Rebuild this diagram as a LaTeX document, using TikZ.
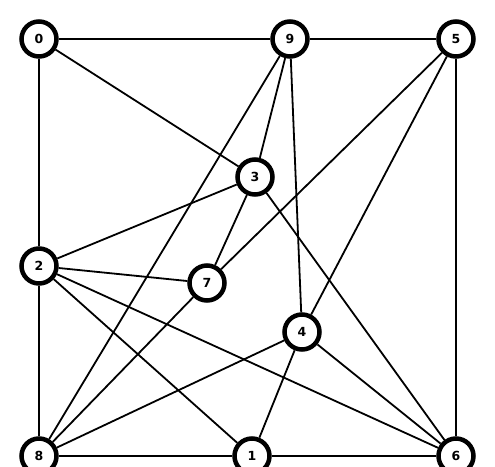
\documentclass[tikz,border=0pt]{standalone}
\usepackage{fontspec}
\setmainfont{DejaVu Sans}
\begin{document}
\begin{tikzpicture}[x=1pt,y=-1pt,
  vtx/.style={circle,draw=black,line width=4.5pt,fill=white,minimum size=35pt,inner sep=0pt,font=\bfseries\fontsize{12.5}{14}\selectfont},
  edge/.style={line width=1.8pt,black}]
\useasboundingbox (0,0) rectangle (495,466);
\node[vtx] (n0) at (39,39) {0};
\node[vtx] (n9) at (290,39) {9};
\node[vtx] (n5) at (456,39) {5};
\node[vtx] (n3) at (255,177) {3};
\node[vtx] (n2) at (39,266) {2};
\node[vtx] (n7) at (207,283) {7};
\node[vtx] (n4) at (302,332) {4};
\node[vtx] (n8) at (39,456) {8};
\node[vtx] (n1) at (252,456) {1};
\node[vtx] (n6) at (456,456) {6};
\draw[edge] (n0) -- (n9);
\draw[edge] (n0) -- (n2);
\draw[edge] (n0) -- (n3);
\draw[edge] (n9) -- (n5);
\draw[edge] (n9) -- (n3);
\draw[edge] (n9) -- (n4);
\draw[edge] (n9) -- (n8);
\draw[edge] (n5) -- (n7);
\draw[edge] (n5) -- (n4);
\draw[edge] (n5) -- (n6);
\draw[edge] (n3) -- (n2);
\draw[edge] (n3) -- (n7);
\draw[edge] (n3) -- (n6);
\draw[edge] (n2) -- (n7);
\draw[edge] (n2) -- (n6);
\draw[edge] (n2) -- (n1);
\draw[edge] (n2) -- (n8);
\draw[edge] (n7) -- (n8);
\draw[edge] (n4) -- (n8);
\draw[edge] (n4) -- (n1);
\draw[edge] (n4) -- (n6);
\draw[edge] (n8) -- (n1);
\draw[edge] (n1) -- (n6);
\end{tikzpicture}
\end{document}
